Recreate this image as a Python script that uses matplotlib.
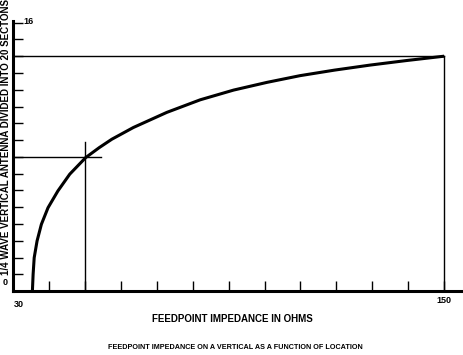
"""Feedpoint impedance along a quarter-wave vertical."""

import numpy as np
import matplotlib
matplotlib.use("Agg")
from matplotlib import pyplot as plt

# curve: (ohms, section)
impedance = [35.4, 35.6, 35.9, 36.7, 37.9, 39.75, 42.5, 45.8, 50.25, 54.0, 57.5, 63.5, 72.8,
	82.1, 91.4, 100.7, 109.9, 119.5, 129.4, 139.5, 150.0]
section = [0.0, 1.0, 1.99, 2.99, 3.98, 4.97, 5.97, 6.97, 7.96, 8.55, 9.05, 9.75, 10.65,
	11.4, 11.98, 12.44, 12.84, 13.17, 13.47, 13.74, 14.0]

marker_ohms = 50
marker_section = 8
end_ohms = 150
end_section = 14

x_ticks = list(range(40, 151, 10))
y_ticks = list(range(0, 17))

plt.rcParams["font.family"] = ["Liberation Sans", "DejaVu Sans"]
plt.rcParams["font.weight"] = "bold"

fig = plt.figure(figsize=(4.64, 3.55), dpi=100)
ax = fig.add_axes([0.028, 0.18, 0.968, 0.761])
ax.set_xlim(30, 155)
ax.set_ylim(0, 16.1)

ax.plot(impedance, section, color="black", lw=2.2, solid_capstyle="butt", solid_joinstyle="round")

# reference lines
ax.plot([30, 54.5], [marker_section, marker_section], color="black", lw=1)
ax.plot([marker_ohms, marker_ohms], [0, 8.9], color="black", lw=1)
ax.plot([30, end_ohms], [end_section, end_section], color="black", lw=1)
ax.plot([end_ohms, end_ohms], [0, end_section], color="black", lw=1)

for side in ("top", "right"):
	ax.spines[side].set_visible(False)
ax.spines["left"].set_linewidth(2.2)
ax.spines["bottom"].set_linewidth(2.2)
ax.spines["left"].set_bounds(0, 16.1)

ax.set_xticks(x_ticks)
ax.set_yticks(y_ticks)
ax.tick_params(direction="in", length=7, width=1, labelleft=False, labelbottom=False)

ax.text(33.0, 16.05, "16", fontsize=6.5, fontweight="bold", va="center", ha="left")
ax.text(-0.012, 0.03, "0", transform=ax.transAxes, fontsize=6.5, fontweight="bold", ha="right", va="center")
ax.text(0.002, -0.05, "30", transform=ax.transAxes, fontsize=6.5, fontweight="bold", ha="left", va="center")
ax.text(end_ohms, -0.55, "150", fontsize=6.5, fontweight="bold", ha="center", va="center")

fig.text(0.5, 0.1, "FEEDPOINT IMPEDANCE IN OHMS", fontsize=7, fontweight="bold", ha="center", va="center")
fig.text(0.013, 0.615, "1/4 WAVE VERTICAL ANTENNA DIVIDED INTO 20 SECTONS", fontsize=7,
	fontweight="bold", rotation=90, ha="center", va="center")
fig.text(0.507, 0.02, "FEEDPOINT IMPEDANCE ON A VERTICAL AS A FUNCTION OF LOCATION",
	fontsize=5.2, fontweight="bold", ha="center", va="center")

fig.savefig("out.png", dpi=100)
